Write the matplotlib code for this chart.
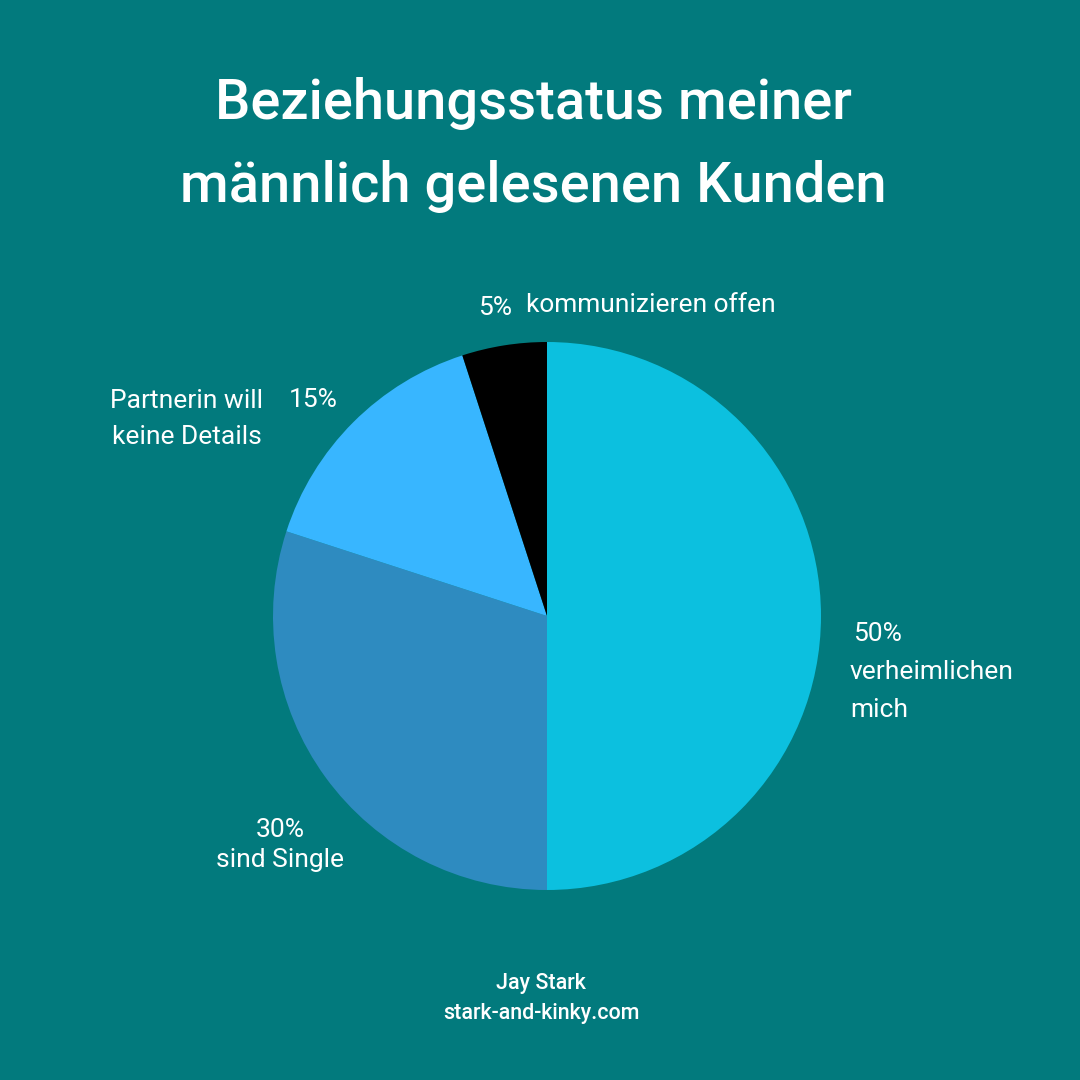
import matplotlib.pyplot as plt

plt.rcParams['font.family'] = ['Roboto', 'DejaVu Sans']

# data
shares = [50, 30, 15, 5]
share_labels = ["50%", "30%", "15%", "5%"]
names = ["verheimlichen\nmich", "sind Single", "Partnerin will\nkeine Details", "kommunizieren offen"]
colors = ["#0CC0DF", "#2E8BC0", "#38B6FF", "#000000"]

bg = "#027A7D"
W = H = 1080


def fx(px):
    return px / W


def fy(py):
    return 1 - py / H


fig = plt.figure(figsize=(10.8, 10.8), dpi=100, facecolor=bg)

# pie axes: centre (547, 616), radius 274 px
ax = fig.add_axes([fx(273), fy(890), 548 / W, 548 / H])
ax.set_facecolor(bg)
ax.pie(shares, colors=colors, startangle=90, counterclock=False, radius=1,
       wedgeprops=dict(linewidth=0))
ax.set_xlim(-1, 1)
ax.set_ylim(-1, 1)
ax.set_aspect("equal")
ax.axis("off")

# title
fig.text(fx(533), fy(104), "Beziehungsstatus meiner", ha="center", va="center",
         fontsize=40.3, fontweight="medium", color="white")
fig.text(fx(533), fy(186), "männlich gelesenen Kunden", ha="center", va="center",
         fontsize=40.3, fontweight="medium", color="white")

lab = dict(color="white", fontsize=19)

# 50%
fig.text(fx(877), fy(634), share_labels[0], ha="center", va="center", **lab)
fig.text(fx(850), fy(691), names[0], ha="left", va="center", linespacing=1.71, **lab)

# 30%
fig.text(fx(280), fy(845), share_labels[1] + "\n" + names[1], ha="center", va="center",
         linespacing=1.36, **lab)

# 15%
fig.text(fx(313), fy(400), share_labels[2], ha="center", va="center", **lab)
fig.text(fx(187), fy(419), names[2], ha="center", va="center", linespacing=1.64, **lab)

# 5%
fig.text(fx(495), fy(308), share_labels[3], ha="center", va="center", **lab)
fig.text(fx(526), fy(305), names[3], ha="left", va="center", **lab)

# footer
fig.text(fx(541), fy(984), "Jay Stark", ha="center", va="center", fontsize=15.5,
         fontweight="medium", color="white")
fig.text(fx(541), fy(1013), "stark-and-kinky.com", ha="center", va="center", fontsize=15.5,
         fontweight="medium", color="white")

fig.savefig("out.png", dpi=100, facecolor=bg)
